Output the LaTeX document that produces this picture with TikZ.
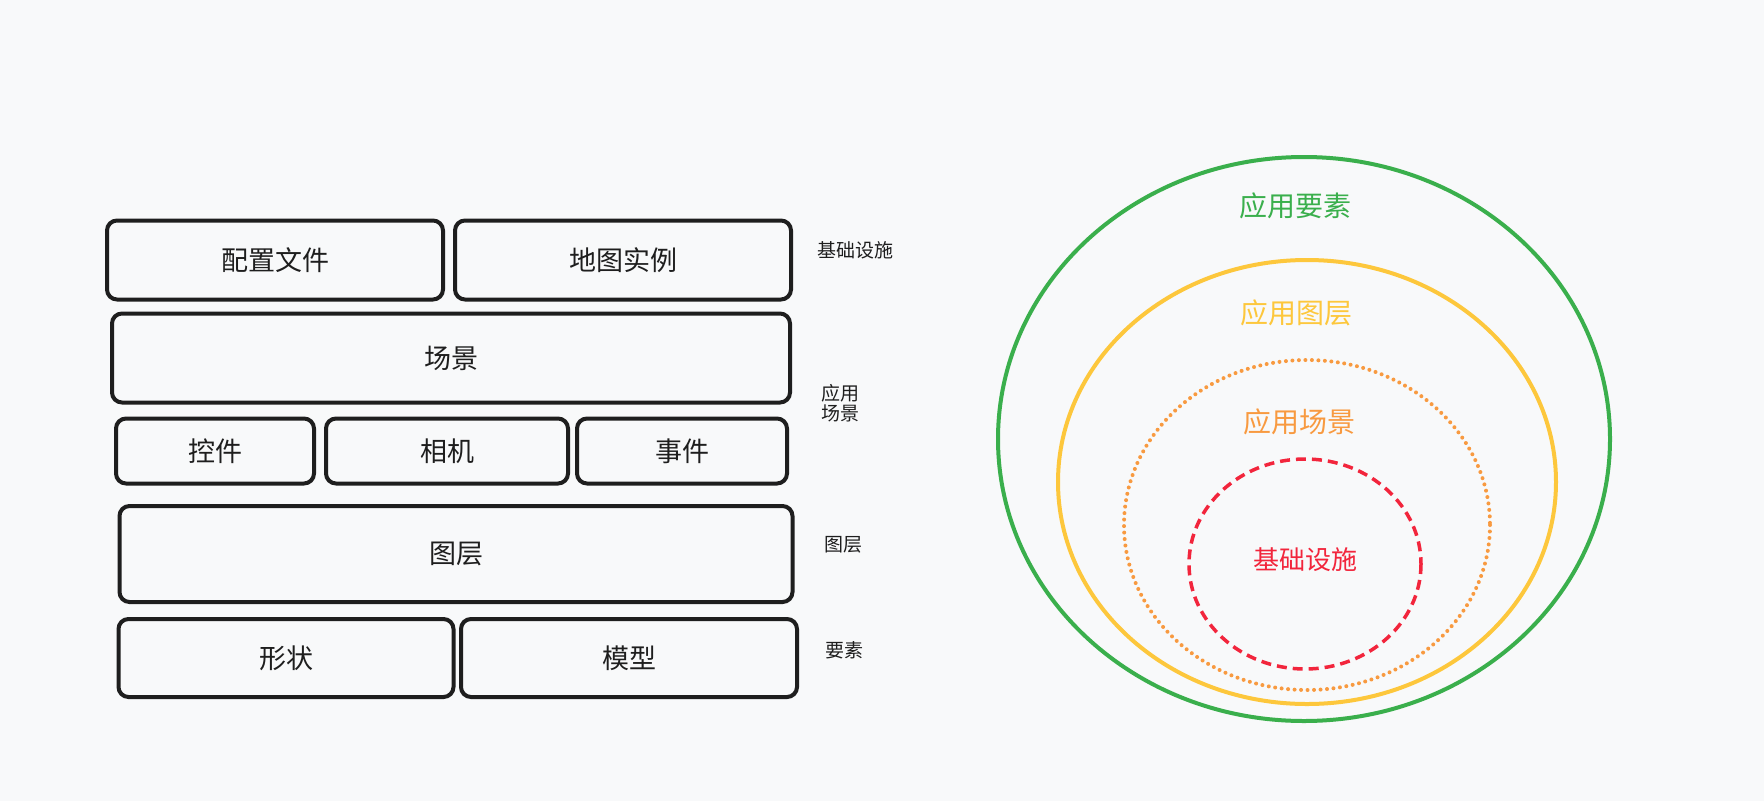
\documentclass[tikz,border=0pt]{standalone}
\usepackage{fontspec}
\newfontfamily\cjk{Noto Sans CJK SC}
\definecolor{bgc}{HTML}{F8F9FA}
\definecolor{ink}{HTML}{1E1E1E}
\definecolor{cgreen}{HTML}{3AAF4C}
\definecolor{cyellow}{HTML}{FDC73C}
\definecolor{corange}{HTML}{F89A40}
\definecolor{cred}{HTML}{F2253C}
\begin{document}
\begin{tikzpicture}[x=1pt,y=-1pt,
  blk/.style={draw=ink,line width=4pt,rounded corners=10pt,inner sep=0pt,
    font=\cjk\fontsize{27}{30}\selectfont,text=ink,fill=bgc},
  side/.style={font=\cjk\fontsize{19}{20}\selectfont,text=ink,align=center,inner sep=0pt},
  rlab/.style={font=\cjk\fontsize{28}{30}\selectfont,inner sep=0pt}]
\fill[bgc] (0,0) rectangle (1764,801);
\useasboundingbox (0,0) rectangle (1764,801);
% left stack
\node[blk,minimum width=336pt,minimum height=79pt] (cfg) at (275,260) {配置文件};
\node[blk,minimum width=336pt,minimum height=79pt] (map) at (623,260) {地图实例};
\node[blk,minimum width=678pt,minimum height=89pt] (scene) at (451,358) {场景};
\node[blk,minimum width=198pt,minimum height=65pt] (ctrl) at (215,451) {控件};
\node[blk,minimum width=242pt,minimum height=65pt] (cam) at (447,451) {相机};
\node[blk,minimum width=210pt,minimum height=65pt] (evt) at (682,451) {事件};
\node[blk,minimum width=673pt,minimum height=96pt] (layer) at (456,554) {图层};
\node[blk,minimum width=335pt,minimum height=78pt] (shape) at (286,658) {形状};
\node[blk,minimum width=336pt,minimum height=78pt] (model) at (629,658) {模型};
% side labels
\node[side] (l1) at (855,250) {基础设施};
\node[side] (l2) at (840,403) {应用\\场景};
\node[side] (l3) at (843,545) {图层};
\node[side] (l4) at (844,650) {要素};
% rings
\draw[cgreen,line width=4pt] (1304,439) ellipse [x radius=306, y radius=282];
\draw[cyellow,line width=4pt] (1307,482) ellipse [x radius=249, y radius=222];
\draw[corange,line width=4pt,line cap=round,dash pattern=on 0pt off 6.5pt] (1307,525) ellipse [x radius=183, y radius=165];
\draw[cred,line width=3.5pt,dash pattern=on 10pt off 6pt] (1305,564) ellipse [x radius=116, y radius=105];
\node[rlab,text=cgreen] (t1) at (1295,206) {应用要素};
\node[rlab,text=cyellow] (t2) at (1296,313) {应用图层};
\node[rlab,text=corange] (t3) at (1299,422) {应用场景};
\node[rlab,text=cred,font=\cjk\fontsize{26}{28}\selectfont] (t4) at (1305,560) {基础设施};
\end{tikzpicture}
\end{document}
